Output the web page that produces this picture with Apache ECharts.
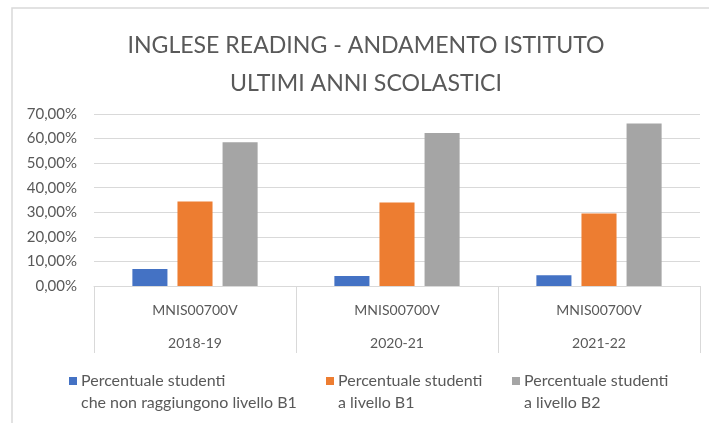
<!DOCTYPE html>
<html>
<head>
<meta charset="utf-8">
<script src="https://cdn.jsdelivr.net/npm/echarts@6/dist/echarts.min.js"></script>
<style>html,body{margin:0;padding:0;background:#fff;}#c{width:709px;height:423px;}</style>
</head>
<body>
<div id="c"></div>
<script>
const schools = ['MNIS00700V', 'MNIS00700V', 'MNIS00700V'];
const years = ['2018-19', '2020-21', '2021-22'];
const seriesNames = [
  'Percentuale studenti\nche non raggiungono livello B1',
  'Percentuale studenti\na livello B1',
  'Percentuale studenti\na livello B2'
];
const belowB1 = [6.9, 4.1, 4.4];
const levelB1 = [34.4, 34.0, 29.5];
const levelB2 = [58.5, 62.3, 66.1];
const yTicks = [0, 10, 20, 30, 40, 50, 60, 70];

const colors = ['#4472C4', '#ED7D31', '#A5A5A5'];
const FONT = 'Lato';
const TXT = '#595959';

const chart = echarts.init(document.getElementById('c'), null, {renderer: 'canvas'});
const categories = schools.map((s, i) => s + '\n' + years[i]);
const values = [belowB1, levelB1, levelB2];
const legendLefts = [69, 326, 512];

chart.setOption({
  animation: false,
  backgroundColor: '#fff',
  graphic: [{
    type: 'rect', silent: true,
    shape: {x: 12, y: 8, width: 720, height: 440},
    style: {fill: 'none', stroke: '#d9d9d9', lineWidth: 1.5}
  }],
  title: {
    text: 'INGLESE READING - ANDAMENTO ISTITUTO\nULTIMI ANNI SCOLASTICI',
    left: 361, top: 22, textAlign: 'center',
    textStyle: {fontFamily: FONT, fontSize: 23.1, fontWeight: 'normal', color: TXT, lineHeight: 38}
  },
  legend: seriesNames.map((n, i) => ({
    data: [n],
    left: legendLefts[i], top: 348, padding: 0,
    icon: 'rect', itemWidth: 8, itemHeight: 8,
    formatter: name => '\n' + name,
    textStyle: {fontFamily: FONT, fontSize: 16, color: TXT, lineHeight: 22, padding: [0,0,0,-1]}
  })),
  grid: {left: 94, right: 9, top: 114, bottom: 137, containLabel: false},
  xAxis: {
    type: 'category', data: categories,
    axisLine: {lineStyle: {color: '#d9d9d9', width: 1}},
    axisTick: {show: true, length: 67, interval: 0, alignWithLabel: false, lineStyle: {color: '#d9d9d9', width: 1}},
    axisLabel: {interval: 0, margin: 8, fontFamily: FONT, fontSize: 14, color: TXT, lineHeight: 33}
  },
  yAxis: {
    type: 'value', min: yTicks[0], max: yTicks[yTicks.length - 1], interval: 10,
    axisLine: {show: false}, axisTick: {show: false},
    splitLine: {lineStyle: {color: '#d9d9d9', width: 1}},
    axisLabel: {margin: 17, fontFamily: FONT, fontSize: 15, color: TXT,
      formatter: v => v.toFixed(2).replace('.', ',') + '%'}
  },
  series: seriesNames.map((n, i) => ({
    name: n, type: 'bar', data: values[i],
    itemStyle: {color: colors[i]},
    barGap: '28.6%', barCategoryGap: '38%'
  }))
});
</script>
</body>
</html>
